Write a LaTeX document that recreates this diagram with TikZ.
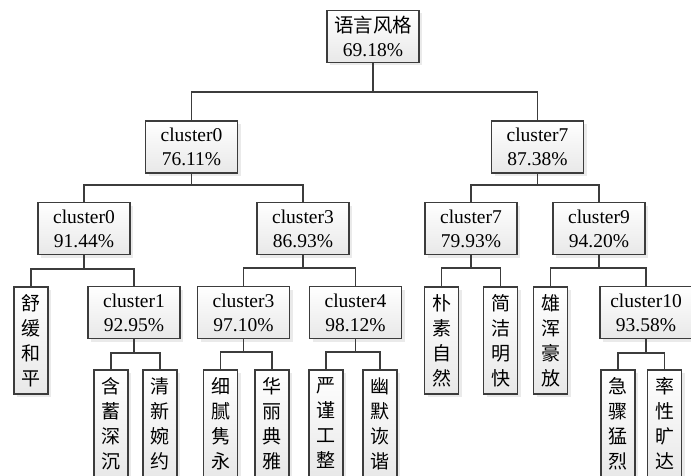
\documentclass[tikz,border=0pt]{standalone}
\usepackage{fontspec}
\setmainfont{Liberation Serif}
\newfontfamily\cjk{Noto Sans CJK SC}
\usetikzlibrary{shadows}
\definecolor{linec}{HTML}{3C3C3C}
\newcommand\labelfont{\fontsize{19.5}{24}\selectfont}
\newcommand\stackfont{\cjk\fontsize{19}{25}\selectfont}
\tikzset{
  box/.style={draw=linec, line width=1.3pt, top color=white, bottom color=black!9,
    drop shadow={shadow xshift=3pt, shadow yshift=-3pt, fill=black!16},
    inner sep=0pt, align=center},
  hbox/.style={box, minimum width=92pt, minimum height=52pt, font=\labelfont},
  vbox/.style={box, minimum width=34pt, minimum height=107pt, font=\stackfont},
  link/.style={draw=linec, line width=1.3pt}
}
\begin{document}
\begin{tikzpicture}[x=1pt, y=-1pt]
\useasboundingbox (0,0) rectangle (691,476);
\clip (0,0) rectangle (691,476);

% root and first split
\node[hbox] (root) at (373,36.5) {{\cjk 语言风格}\\69.18\%};
\node[hbox] (a) at (191.5,147) {cluster0\\76.11\%};
\node[hbox] (b) at (537.5,147) {cluster7\\87.38\%};

% second level
\node[hbox] (aa) at (84,228.5) {cluster0\\91.44\%};
\node[hbox] (ab) at (303,228.5) {cluster3\\86.93\%};
\node[hbox] (ba) at (471,228.5) {cluster7\\79.93\%};
\node[hbox] (bb) at (599,228.5) {cluster9\\94.20\%};

% third level
\node[vbox] (aaa) at (31,340.5) {舒\\缓\\和\\平};
\node[hbox] (aab) at (134,312.5) {cluster1\\92.95\%};
\node[hbox] (aba) at (243.5,312.5) {cluster3\\97.10\%};
\node[hbox] (abb) at (355.5,312.5) {cluster4\\98.12\%};
\node[vbox] (baa) at (441.5,340.5) {朴\\素\\自\\然};
\node[vbox] (bab) at (500.5,340.5) {简\\洁\\明\\快};
\node[vbox] (bba) at (550.5,340.5) {雄\\浑\\豪\\放};
\node[hbox] (bbb) at (646,312.5) {cluster10\\93.58\%};

% leaves
\node[vbox] (aaba) at (111,423.5) {含\\蓄\\深\\沉};
\node[vbox] (aabb) at (160,423.5) {清\\新\\婉\\约};
\node[vbox] (abaa) at (220.5,423.5) {细\\腻\\隽\\永};
\node[vbox] (abab) at (272,423.5) {华\\丽\\典\\雅};
\node[vbox] (abba) at (326,423.5) {严\\谨\\工\\整};
\node[vbox] (abbb) at (380,423.5) {幽\\默\\诙\\谐};
\node[vbox] (bbba) at (618,423.5) {急\\骤\\猛\\烈};
\node[vbox] (bbbb) at (664.5,423.5) {率\\性\\旷\\达};

% elbow connectors: parent -> bar -> child
\foreach \p/\c/\y in {root/a/92, root/b/92,
    a/aa/185, a/ab/185, b/ba/185, b/bb/185,
    aa/aaa/269, aa/aab/269, ab/aba/268, ab/abb/268,
    ba/baa/268, ba/bab/268, bb/bba/268, bb/bbb/268,
    aab/aaba/353, aab/aabb/353, aba/abaa/352, aba/abab/352,
    abb/abba/352, abb/abbb/352, bbb/bbba/353, bbb/bbbb/353}
  \draw[link] (\p.south) |- (\c.north |- 0,\y) -- (\c.north);
\end{tikzpicture}
\end{document}
